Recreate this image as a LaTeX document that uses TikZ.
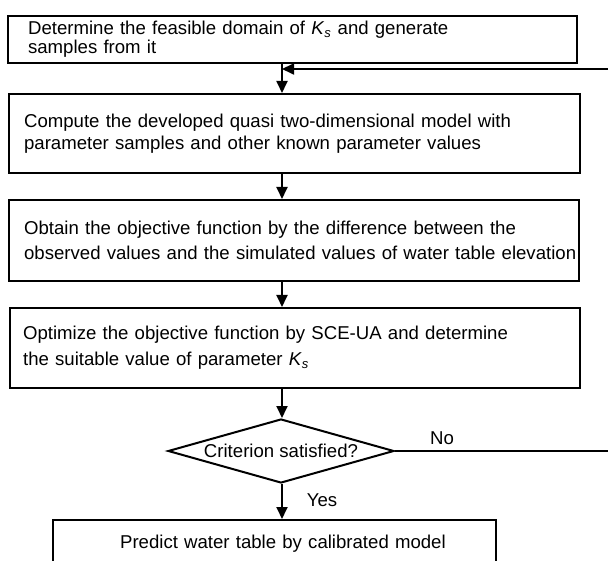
\documentclass[tikz,border=0pt]{standalone}
\usepackage{fontspec}
\setmainfont{Liberation Sans}
\usetikzlibrary{shapes.geometric,arrows.meta}
\begin{document}
\begin{tikzpicture}[x=1pt,y=-1pt,
  box/.style={draw, line width=2.2pt, anchor=north west, align=left, inner ysep=0pt},
  arr/.style={line width=1.8pt, -{Triangle[length=12pt,width=11pt]}},
  lbl/.style={font=\fontsize{18.6}{22}\selectfont, inner sep=0pt}]
\useasboundingbox (0,0) rectangle (608,561);
\clip (0,0) rectangle (608,561);
\node[box, minimum height=47pt, text width=529pt, inner xsep=20pt, font=\fontsize{18.6}{19}\selectfont] (b1) at (7,15)
  {\mbox{Determine the feasible domain of \textit{K}\textsubscript{\textit{s}} and generate}\\\mbox{samples from it}};
\node[box, minimum height=79pt, text width=541pt, inner xsep=15pt, font=\fontsize{18.6}{22}\selectfont] (b2) at (8,93)
  {\mbox{Compute the developed quasi two-dimensional model with}\\\mbox{parameter samples and other known parameter values}};
\node[box, minimum height=81pt, text width=540pt, inner xsep=15pt, font=\fontsize{18.6}{25}\selectfont] (b3) at (8,199)
  {\mbox{Obtain the objective function by the difference between the}\\\mbox{observed values and the simulated values of water table elevation}};
\node[box, minimum height=80pt, text width=544pt, inner xsep=13pt, font=\fontsize{18.6}{26}\selectfont] (b4) at (9,307)
  {\mbox{Optimize the objective function by SCE-UA and determine}\\\mbox{the suitable value of parameter \textit{K}\textsubscript{\textit{s}}}};
\node[diamond, draw, line width=2pt, aspect=3.53, inner sep=0pt, minimum width=226pt, minimum height=64pt,
  font=\fontsize{18.6}{22}\selectfont] (dia) at (281,451) {Criterion satisfied?};
\node[box, minimum height=48pt, text width=309pt, inner xsep=67pt, font=\fontsize{18.6}{22}\selectfont] (b5) at (52,519)
  {\mbox{Predict water table by calibrated model}};
\coordinate (col) at (282,0);
\coordinate (fbR) at (640,0);
\coordinate (fbY) at (0,69);
\draw[arr] (b1.south -| col) -- (b2.north -| col);
\draw[arr] (b2.south -| col) -- (b3.north -| col);
\draw[arr] (b3.south -| col) -- (b4.north -| col);
\draw[arr] (b4.south -| col) -- (dia.north -| col);
\draw[arr] (dia.south -| col) -- (b5.north -| col);
\draw[arr] (dia.east) -- (dia.east -| fbR) -- (fbR |- fbY) -- (col |- fbY);
\node[lbl] (no) at (442,438) {No};
\node[lbl] (yes) at (322,500) {Yes};
\end{tikzpicture}
\end{document}
